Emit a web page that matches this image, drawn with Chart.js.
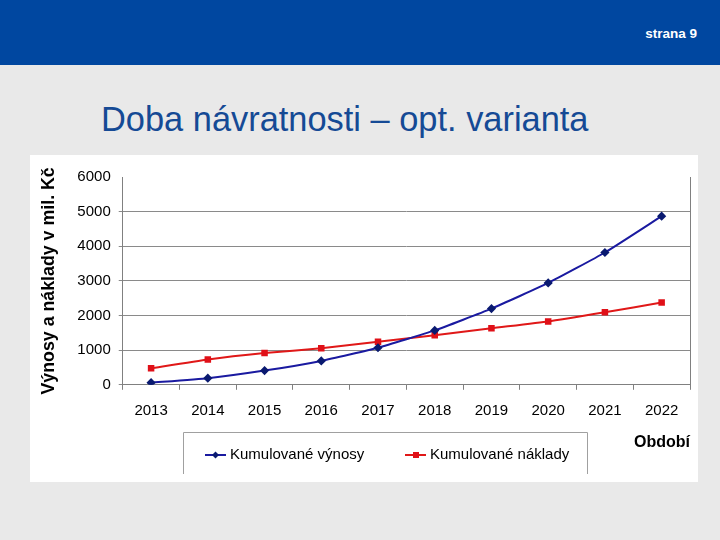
<!DOCTYPE html>
<html>
<head>
<meta charset="utf-8">
<script src="https://cdn.jsdelivr.net/npm/chart.js@4.4.1/dist/chart.umd.min.js"></script>
<style>
  body { margin: 0; width: 720px; height: 540px; background: #e9e9e9; position: relative; overflow: hidden; font-family: "Liberation Sans", Arial, sans-serif; }
  #header { position: absolute; left: 0; top: 0; width: 720px; height: 65px; background: #0047a0; }
  #page { position: absolute; right: 23px; top: 26px; color: #fff; font-size: 13.5px; font-weight: bold; }
  #title { position: absolute; left: 101px; top: 100px; color: #154a95; font-size: 34.4px; white-space: nowrap; }
  #box { position: absolute; left: 30px; top: 155px; width: 668px; height: 327px; background: #fff; }
</style>
</head>
<body>
<div id="header"><div id="page">strana 9</div></div>
<div id="title">Doba návratnosti – opt. varianta</div>
<div id="box"><canvas id="myChart"></canvas></div>
<script>
const years = ["2013", "2014", "2015", "2016", "2017", "2018", "2019", "2020", "2021", "2022"];
const vynosy = [60, 190, 410, 690, 1070, 1570, 2200, 2940, 3820, 4870];
const naklady = [475, 730, 915, 1055, 1245, 1430, 1635, 1830, 2095, 2375];
const yTicks = [0, 1000, 2000, 3000, 4000, 5000, 6000];

const font = "'Liberation Sans', Arial, sans-serif";

// right frame line + boxed legend at the bottom
const extras = {
  id: "extras",
  afterDraw(chart) {
    const ctx = chart.ctx;
    const area = chart.chartArea;
    ctx.save();
    ctx.strokeStyle = "#808080";
    ctx.lineWidth = 1;
    ctx.beginPath();
    ctx.moveTo(Math.round(area.right) + 0.5, area.top);
    ctx.lineTo(Math.round(area.right) + 0.5, area.bottom);
    ctx.stroke();

    // legend box (open at the bottom like the original)
    ctx.strokeStyle = "#a0a0a0";
    ctx.beginPath();
    ctx.moveTo(153.5, 319);
    ctx.lineTo(153.5, 277.5);
    ctx.lineTo(557.5, 277.5);
    ctx.lineTo(557.5, 319);
    ctx.stroke();

    const xs = [175, 375];
    chart.data.datasets.forEach((ds, i) => {
      const x = xs[i];
      const y = 300;
      ctx.strokeStyle = ds.borderColor;
      ctx.lineWidth = 2;
      ctx.beginPath();
      ctx.moveTo(x, y);
      ctx.lineTo(x + 21, y);
      ctx.stroke();
      ctx.fillStyle = ds.pointBackgroundColor;
      if (ds.pointStyle === "rect") {
        ctx.fillRect(x + 8, y - 3, 6, 6);
      } else {
        ctx.beginPath();
        ctx.moveTo(x + 10.5, y - 3.5);
        ctx.lineTo(x + 14, y);
        ctx.lineTo(x + 10.5, y + 3.5);
        ctx.lineTo(x + 7, y);
        ctx.closePath();
        ctx.fill();
      }
      ctx.fillStyle = "#000";
      ctx.font = "15px " + font;
      ctx.textBaseline = "middle";
      ctx.fillText(ds.label, x + 25, y);
    });
    ctx.restore();
  }
};

new Chart(document.getElementById("myChart"), {
  type: "line",
  data: {
    labels: years,
    datasets: [
      {
        label: "Kumulované výnosy",
        data: vynosy,
        borderColor: "#1a1aa0",
        backgroundColor: "#0a1a70",
        pointBackgroundColor: "#0a1a70",
        pointBorderColor: "#0a1a70",
        pointStyle: "rectRot",
        pointRadius: 3.2,
        borderWidth: 2,
        tension: 0.15
      },
      {
        label: "Kumulované náklady",
        data: naklady,
        borderColor: "#e01818",
        backgroundColor: "#e01018",
        pointBackgroundColor: "#e01018",
        pointBorderColor: "#e01018",
        pointStyle: "rect",
        pointRadius: 3.2,
        borderWidth: 2,
        tension: 0.15
      }
    ]
  },
  options: {
    responsive: true,
    maintainAspectRatio: false,
    animation: false,
    layout: { padding: { left: 4, right: 8, top: 22, bottom: 26 } },
    plugins: { legend: { display: false }, tooltip: { enabled: false } },
    scales: {
      x: {
        offset: true,
        grid: { offset: true, drawOnChartArea: false, color: "#808080", tickLength: 5 },
        border: { color: "#808080" },
        ticks: { color: "#000", font: { size: 15, family: font }, padding: 12, maxRotation: 0 },
        title: { display: true, text: "Období", align: "end", color: "#000", font: { size: 16, weight: "bold", family: font }, padding: { top: 1 } }
      },
      y: {
        min: 0,
        max: 6000,
        afterBuildTicks: (axis) => { axis.ticks = yTicks.map(v => ({ value: v })); },
        grid: {
          color: (c) => (c.tick && c.tick.value === 6000 ? "rgba(0,0,0,0)" : "#8a8a8a"),
          tickLength: 4
        },
        border: { color: "#808080" },
        ticks: { color: "#000", font: { size: 15, family: font }, padding: 8, callback: (v) => String(v) },
        title: { display: true, text: "Výnosy a náklady v mil. Kč", color: "#000", font: { size: 17.8, weight: "bold", family: font }, padding: { bottom: 10 } }
      }
    }
  },
  plugins: [extras]
});
</script>
</body>
</html>
